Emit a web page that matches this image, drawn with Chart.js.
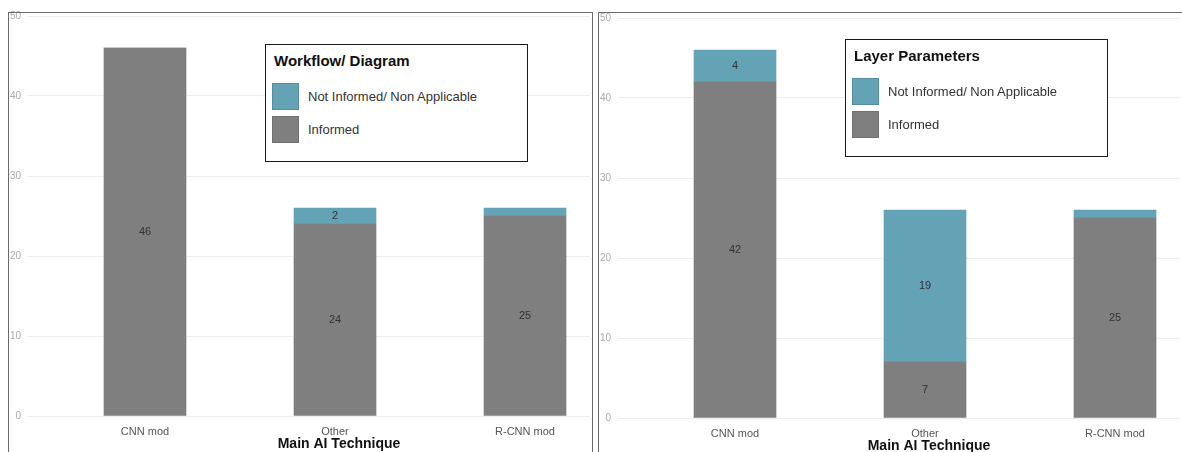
<!DOCTYPE html>
<html>
<head>
<meta charset="utf-8">
<script src="https://cdn.jsdelivr.net/npm/chart.js@4.4.1/dist/chart.umd.min.js"></script>
<style>
  html, body { margin: 0; padding: 0; background: #fff; overflow: hidden; }
  body { width: 1182px; height: 452px; position: relative; font-family: "Liberation Sans", Arial, sans-serif; }
  canvas { position: absolute; }
  .frame { position: absolute; border: 1px solid #6a6a6a; pointer-events: none; }
  .legend { position: absolute; box-sizing: border-box; border: 1.5px solid #1a1a1a; background: #fff; width: 263px; height: 118px; }
  .legend .ttl { position: absolute; left: 8px; top: 7px; font-weight: bold; font-size: 15px; color: #111; line-height: 18px; white-space: nowrap; }
  .legend .sw { position: absolute; left: 6px; width: 27px; height: 27px; box-sizing: border-box; border: 1px solid rgba(0,0,0,0.12); }
  .legend .lbl { position: absolute; left: 42px; font-size: 13px; color: #333; line-height: 16px; white-space: nowrap; }
</style>
</head>
<body>
<canvas id="chartWorkflow" width="595" height="452" style="left:0;top:0"></canvas>
<canvas id="chartLayer" width="595" height="452" style="left:590px;top:2px"></canvas>
<div class="frame" style="left:8px;top:12px;width:583px;height:470px"></div>
<div class="frame" style="left:598px;top:12px;width:620px;height:470px"></div>
<div class="legend" id="legendWorkflow" style="left:265px;top:44px"></div>
<div class="legend" id="legendLayer" style="left:845px;top:39px"></div>

<script>
// Categories and counts per panel
const categories = ['CNN mod', 'Other', 'R-CNN mod'];
const seriesNames = ['Informed', 'Not Informed/ Non Applicable'];

const workflowInformed = [46, 24, 25];
const workflowNotInformed = [0, 2, 1];

const layerInformed = [42, 7, 25];
const layerNotInformed = [4, 19, 1];

const yTicks = [0, 10, 20, 30, 40, 50];
const xAxisTitle = 'Main AI Technique';
const panelTitles = ['Workflow/ Diagram', 'Layer Parameters'];

const GRAY = '#7f7f7f';
const TEAL = '#64a2b5';
const FONT = '"Liberation Sans", Arial, sans-serif';

const toPoints = vals => vals.map((v, i) => ({ x: i + 1, y: v }));

// Value written in the middle of each segment tall enough to hold it
const valueLabels = {
  id: 'valueLabels',
  afterDatasetsDraw(chart) {
    const ctx = chart.ctx;
    ctx.save();
    ctx.font = '11px ' + FONT;
    ctx.fillStyle = '#333';
    ctx.textAlign = 'center';
    ctx.textBaseline = 'middle';
    chart.data.datasets.forEach((ds, di) => {
      chart.getDatasetMeta(di).data.forEach((bar, i) => {
        const v = ds.data[i].y;
        const p = bar.getProps(['x', 'y', 'base'], true);
        if (v > 0 && Math.abs(p.base - p.y) >= 12) {
          ctx.fillText(String(v), p.x, (p.y + p.base) / 2);
        }
      });
    });
    ctx.restore();
  }
};

// Axis title centred under the middle category
const axisCaption = {
  id: 'axisCaption',
  afterDraw(chart) {
    const ctx = chart.ctx;
    const xs = chart.scales.x;
    ctx.save();
    ctx.font = 'bold 14px ' + FONT;
    ctx.fillStyle = '#111';
    ctx.textAlign = 'center';
    ctx.textBaseline = 'middle';
    ctx.fillText(xAxisTitle, xs.getPixelForValue(2) + 4, 444);
    ctx.restore();
  }
};

function makeChart(id, informed, notInformed) {
  return new Chart(document.getElementById(id), {
    type: 'bar',
    data: {
      datasets: [
        { label: seriesNames[0], data: toPoints(informed), backgroundColor: GRAY, barThickness: 82 },
        { label: seriesNames[1], data: toPoints(notInformed), backgroundColor: TEAL, barThickness: 82 }
      ]
    },
    options: {
      responsive: false,
      animation: false,
      devicePixelRatio: 1,
      layout: { padding: { left: 0, right: 5, top: 16, bottom: 0 } },
      plugins: { legend: { display: false }, tooltip: { enabled: false } },
      scales: {
        x: {
          type: 'linear',
          stacked: true,
          offset: false,
          min: 0.3842,
          max: 3.342,
          grid: { display: false, drawTicks: false },
          border: { display: false },
          afterBuildTicks: s => { s.ticks = categories.map((c, i) => ({ value: i + 1 })); },
          afterFit: s => { s.height = 36; },
          ticks: {
            callback: v => categories[v - 1],
            autoSkip: false,
            maxRotation: 0,
            padding: 9,
            color: '#555',
            font: { family: FONT, size: 11 }
          }
        },
        y: {
          stacked: true,
          min: yTicks[0],
          max: yTicks[yTicks.length - 1],
          afterBuildTicks: s => { s.ticks = yTicks.map(v => ({ value: v })); },
          afterFit: s => { s.width = 28; },
          grid: { color: '#ececec', lineWidth: 1, drawTicks: false },
          border: { display: false },
          ticks: { padding: 7, color: '#a8a8a8', font: { family: FONT, size: 10 } }
        }
      }
    },
    plugins: [valueLabels, axisCaption]
  });
}

// Legend box built from the chart's own datasets, top series first
function buildLegend(chart, boxId, title) {
  const box = document.getElementById(boxId);
  const t = document.createElement('div');
  t.className = 'ttl';
  t.textContent = title;
  box.appendChild(t);
  const items = chart.data.datasets.slice().reverse();
  items.forEach((ds, k) => {
    const top = 38 + k * 33;
    const sw = document.createElement('div');
    sw.className = 'sw';
    sw.style.top = top + 'px';
    sw.style.background = ds.backgroundColor;
    box.appendChild(sw);
    const lb = document.createElement('div');
    lb.className = 'lbl';
    lb.style.top = (top + 6) + 'px';
    lb.textContent = ds.label;
    box.appendChild(lb);
  });
}

const c1 = makeChart('chartWorkflow', workflowInformed, workflowNotInformed);
const c2 = makeChart('chartLayer', layerInformed, layerNotInformed);
buildLegend(c1, 'legendWorkflow', panelTitles[0]);
buildLegend(c2, 'legendLayer', panelTitles[1]);
</script>
</body>
</html>
